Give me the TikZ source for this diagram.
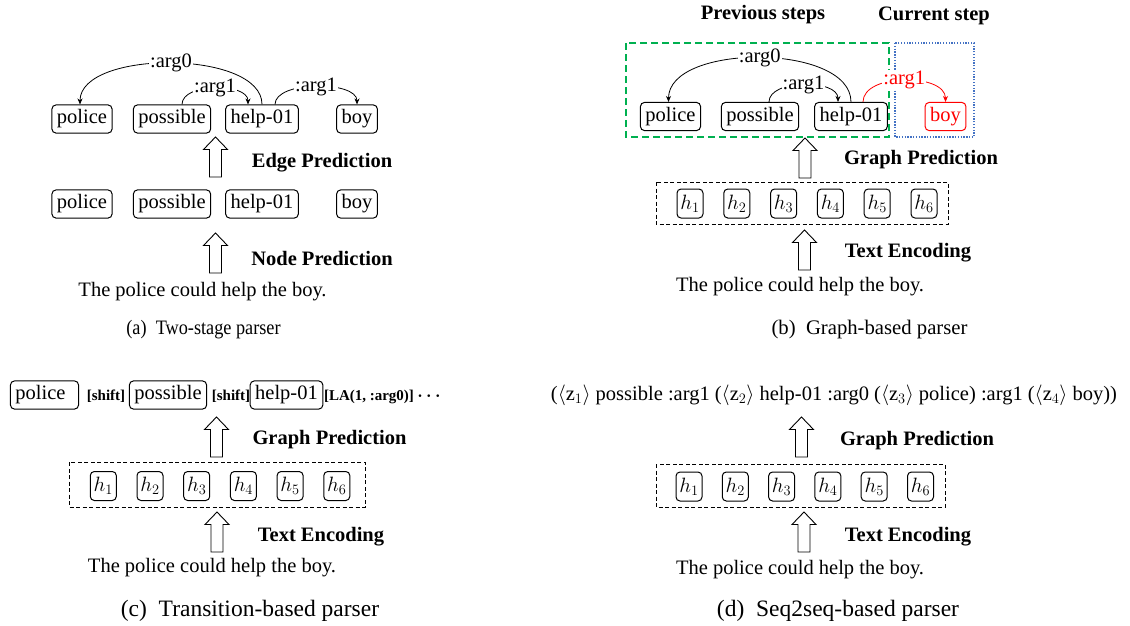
\documentclass[tikz,border=0pt]{standalone}
\usepackage{fontspec}
\setmainfont{Liberation Serif}
\usetikzlibrary{arrows.meta}
\definecolor{prevgreen}{RGB}{0,176,80}
\definecolor{curblue}{RGB}{68,114,196}
\newcommand{\fsz}{\fontsize{20.5}{24}\selectfont}
\newcommand{\ssz}{\fontsize{15}{18}\selectfont}
\begin{document}
\begin{tikzpicture}[x=1pt,y=-1pt,
  every node/.style={font=\fsz},
  nd/.style={draw, rounded corners=4pt, line width=1pt, inner xsep=5pt, inner ysep=4.7pt, text height=14.2pt, text depth=4.5pt},
  hn/.style={draw, rounded corners=4pt, line width=1pt, minimum width=26pt, minimum height=29pt, inner sep=0pt},
  lbl/.style={font=\fsz\bfseries},
  act/.style={font=\ssz\bfseries, anchor=base},
  elab/.style={fill=white, inner sep=1pt},
  arc/.style={-{Stealth[length=6pt,width=5pt]}, line width=0.8pt},
  dbox/.style={draw, dash pattern=on 4pt off 2.5pt, line width=0.9pt},
  capa/.style={font=\fontsize{20.5}{24}\selectfont},
  capb/.style={font=\fontsize{20.7}{24}\selectfont},
  capc/.style={font=\fontsize{23.5}{27}\selectfont},
  barrow/.pic={\draw[line width=0.9pt, fill=white] (0,0) -- (12,12.5) -- (6,12.5) -- (6,40) -- (-6,40) -- (-6,12.5) -- (-12,12.5) -- cycle;}
]
\useasboundingbox (0,0) rectangle (1130,625);

% ---------------- (a) Two-stage parser ----------------
\node[nd] (apol)  at (82,119)  {police};
\node[nd] (apos)  at (172,119) {possible};
\node[nd] (ahelp) at (262,119) {help-01};
\node[nd] (aboy)  at (357,119) {boy};
\node[nd] (apol2)  at (82,204)  {police};
\node[nd] (apos2)  at (172,204) {possible};
\node[nd] (ahelp2) at (262,204) {help-01};
\node[nd] (aboy2)  at (357,204) {boy};
\draw[arc] (ahelp.north) .. controls +(0,-55) and +(0,-55) .. ([xshift=-2pt]apol.north) node[elab,pos=0.5] {:arg0};
\draw[arc] ([xshift=10pt]apos.north) .. controls +(0,-22) and +(0,-22) .. ([xshift=-14pt]ahelp.north) node[elab,pos=0.5] {:arg1};
\draw[arc] ([xshift=13pt]ahelp.north) .. controls +(0,-24) and +(0,-24) .. (aboy.north) node[elab,pos=0.5] {:arg1};
\pic at (215.5,137) {barrow};
\node[lbl] (aedge) at (322,163) {Edge Prediction};
\pic at (215.5,233) {barrow};
\node[lbl] (anode) at (322,258) {Node Prediction};
\node (asent) at (202.5,292) {The police could help the boy.};
\node[capa] (acap) at (203.5,330) {\scalebox{0.89}[1]{(a)\enspace Two-stage parser}};

% ---------------- (b) Graph-based parser ----------------
\node[lbl] (bprev) at (763,15) {Previous steps};
\node[lbl] (bcur) at (934,16) {Current step};
\draw[prevgreen, line width=1.6pt, dash pattern=on 7pt off 4pt] (626,43) rectangle (889,137);
\draw[curblue, line width=1.3pt, dash pattern=on 1.3pt off 1.5pt] (895,43) rectangle (974,137);
\node[nd] (bpol)  at (670.5,116.5) {police};
\node[nd] (bpos)  at (760,116.5) {possible};
\node[nd] (bhelp) at (851,116.5) {help-01};
\node[nd, red] (bboy) at (945.5,116.5) {boy};
\draw[arc] (bhelp.north) .. controls +(0,-59) and +(0,-59) .. ([xshift=-2pt]bpol.north) node[elab,pos=0.5] {:arg0};
\draw[arc] ([xshift=9pt]bpos.north) .. controls +(0,-23) and +(0,-23) .. ([xshift=-13pt]bhelp.north) node[elab,pos=0.5] {:arg1};
\draw[arc, red] ([xshift=12pt]bhelp.north) .. controls +(0,-29) and +(0,-29) .. (bboy.north) node[elab,pos=0.5] {:arg1};
\pic at (805,138) {barrow};
\node[lbl] (bgp) at (921,160) {Graph Prediction};
\draw[dbox] (656,182) rectangle (948,224);
\foreach \i in {1,...,6} {\node[hn] (bh\i) at ({690+46.8*(\i-1)},203.5) {$h_{\i}$};}
\pic at (804.5,230) {barrow};
\node[lbl] (bte) at (908,253) {Text Encoding};
\node (bsent) at (800,287) {The police could help the boy.};
\node[capb] (bcap) at (869.5,330) {(b)\enspace Graph-based parser};

% ---------------- (c) Transition-based parser ----------------
\node[nd] (cpol)  at (44.5,395) {police\hspace*{8pt}};
\node[act] (cs1) at (106,400) {[shift]};
\node[nd] (cpos)  at (168,395) {possible};
\node[act] (cs2) at (231,400) {[shift]};
\node[nd] (chelp) at (286.5,395) {help-01};
\node[act] (cla) at (369,400) {[LA(1, :arg0)]};
\node[act, font=\fontsize{19}{22}\selectfont\boldmath] (cdots) at (429,400) {$\cdots$};
\pic at (216.5,417) {barrow};
\node[lbl] (cgp) at (329.5,440) {Graph Prediction};
\draw[dbox] (69,462) rectangle (365,507);
\foreach \i in {1,...,6} {\node[hn] (ch\i) at ({103.3+46.7*(\i-1)},486) {$h_{\i}$};}
\pic at (217,512) {barrow};
\node[lbl] (cte) at (321,537) {Text Encoding};
\node (csent) at (212,568) {The police could help the boy.};
\node[capc] (ccap) at (250,611) {(c)\enspace Transition-based parser};

% ---------------- (d) Seq2seq-based parser ----------------
\node[anchor=base] (dseq) at (834,400) {($\langle$z$_1\rangle$ possible :arg1 ($\langle$z$_2\rangle$ help-01 :arg0 ($\langle$z$_3\rangle$ police) :arg1 ($\langle$z$_4\rangle$ boy))};
\pic at (801.5,417) {barrow};
\node[lbl] (dgp) at (917,441) {Graph Prediction};
\draw[dbox] (656,464) rectangle (945,507);
\foreach \i in {1,...,6} {\node[hn] (dh\i) at ({689+46.3*(\i-1)},486.5) {$h_{\i}$};}
\pic at (804,512) {barrow};
\node[lbl] (dte) at (908,537) {Text Encoding};
\node (dsent) at (800,570) {The police could help the boy.};
\node[capc] (dcap) at (838,611) {(d)\enspace Seq2seq-based parser};
\end{tikzpicture}
\end{document}
